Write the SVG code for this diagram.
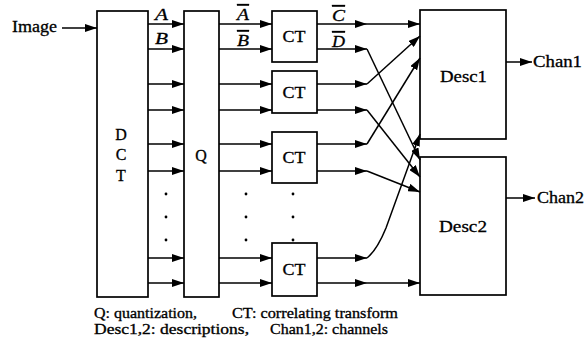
<svg xmlns="http://www.w3.org/2000/svg" width="586" height="349" viewBox="0 0 586 349" font-family="'Liberation Serif', 'DejaVu Serif', serif">
<style>
.box{fill:#fff;stroke:#000;stroke-width:1.7}
.ln{fill:none;stroke:#000;stroke-width:1.5}
.t{font-family:'Liberation Serif','DejaVu Serif',serif;fill:#000;stroke:#000;stroke-width:0.3}
.lbl{font-family:'Liberation Serif','DejaVu Serif',serif;font-style:italic;font-size:17px;fill:#000;stroke:#000;stroke-width:0.3}
.ov{text-decoration:overline}
.dot{fill:#000}
</style>
<defs>
<marker id="ah" markerUnits="userSpaceOnUse" markerWidth="12" markerHeight="8" refX="12" refY="4" orient="auto">
<path d="M0,0 L12,4 L0,8 z" fill="#000"/>
</marker>
</defs>
<rect width="586" height="349" fill="#fff"/>

<g id="input">
<text class="t" x="12" y="32" font-size="16" textLength="45" lengthAdjust="spacingAndGlyphs">Image</text>
</g>

<g id="dct">
<rect class="box" x="97" y="11" width="51" height="286"/>
<text class="t" x="121" y="140" font-size="16" text-anchor="middle">D</text>
<text class="t" x="121" y="160" font-size="16" text-anchor="middle">C</text>
<text class="t" x="121" y="181" font-size="16" text-anchor="middle">T</text>
</g>

<g id="q">
<rect class="box" x="184" y="11" width="35" height="286"/>
<text class="t" x="201" y="161" font-size="16" text-anchor="middle">Q</text>
</g>

<g id="ct1">
<rect class="box" x="272" y="11" width="45" height="51"/>
<text class="t" x="294" y="42" font-size="17" text-anchor="middle" textLength="23" lengthAdjust="spacingAndGlyphs">CT</text>
</g>
<g id="ct2">
<rect class="box" x="272" y="71" width="45" height="42"/>
<text class="t" x="294" y="98" font-size="17" text-anchor="middle" textLength="23" lengthAdjust="spacingAndGlyphs">CT</text>
</g>
<g id="ct3">
<rect class="box" x="272" y="132" width="45" height="51"/>
<text class="t" x="294" y="163" font-size="17" text-anchor="middle" textLength="23" lengthAdjust="spacingAndGlyphs">CT</text>
</g>
<g id="ct4">
<rect class="box" x="272" y="243" width="45" height="53"/>
<text class="t" x="294" y="275" font-size="17" text-anchor="middle" textLength="23" lengthAdjust="spacingAndGlyphs">CT</text>
</g>

<g id="desc1">
<rect class="box" x="420" y="10" width="86" height="129"/>
<text class="t" x="440" y="82" font-size="17" textLength="47" lengthAdjust="spacingAndGlyphs">Desc1</text>
</g>
<g id="desc2">
<rect class="box" x="420" y="157" width="86" height="138"/>
<text class="t" x="439" y="232" font-size="17" textLength="48" lengthAdjust="spacingAndGlyphs">Desc2</text>
</g>

<g id="chan1">
<text class="t" x="533" y="67" font-size="16" textLength="49" lengthAdjust="spacingAndGlyphs">Chan1</text>
</g>
<g id="chan2">
<text class="t" x="537" y="203" font-size="16" textLength="47" lengthAdjust="spacingAndGlyphs">Chan2</text>
</g>

<g id="connectors">
<line class="ln" x1="62" y1="28" x2="97" y2="28" marker-end="url(#ah)"/>
<line class="ln" x1="148" y1="24" x2="184" y2="24" marker-end="url(#ah)"/>
<line class="ln" x1="148" y1="49" x2="184" y2="49" marker-end="url(#ah)"/>
<line class="ln" x1="148" y1="84" x2="184" y2="84" marker-end="url(#ah)"/>
<line class="ln" x1="148" y1="110" x2="184" y2="110" marker-end="url(#ah)"/>
<line class="ln" x1="148" y1="144" x2="184" y2="144" marker-end="url(#ah)"/>
<line class="ln" x1="148" y1="171" x2="184" y2="171" marker-end="url(#ah)"/>
<line class="ln" x1="148" y1="258" x2="184" y2="258" marker-end="url(#ah)"/>
<line class="ln" x1="148" y1="283" x2="184" y2="283" marker-end="url(#ah)"/>
<line class="ln" x1="219" y1="24" x2="272" y2="24" marker-end="url(#ah)"/>
<line class="ln" x1="219" y1="49" x2="272" y2="49" marker-end="url(#ah)"/>
<line class="ln" x1="219" y1="84" x2="272" y2="84" marker-end="url(#ah)"/>
<line class="ln" x1="219" y1="110" x2="272" y2="110" marker-end="url(#ah)"/>
<line class="ln" x1="219" y1="144" x2="272" y2="144" marker-end="url(#ah)"/>
<line class="ln" x1="219" y1="171" x2="272" y2="171" marker-end="url(#ah)"/>
<line class="ln" x1="219" y1="258" x2="272" y2="258" marker-end="url(#ah)"/>
<line class="ln" x1="219" y1="283" x2="272" y2="283" marker-end="url(#ah)"/>
<line class="ln" x1="317" y1="24" x2="367" y2="24" marker-end="url(#ah)"/>
<line class="ln" x1="317" y1="49" x2="367" y2="49" marker-end="url(#ah)"/>
<line class="ln" x1="317" y1="84" x2="367" y2="84" marker-end="url(#ah)"/>
<line class="ln" x1="317" y1="110" x2="367" y2="110" marker-end="url(#ah)"/>
<line class="ln" x1="317" y1="144" x2="367" y2="144" marker-end="url(#ah)"/>
<line class="ln" x1="317" y1="171" x2="367" y2="171" marker-end="url(#ah)"/>
<line class="ln" x1="317" y1="258" x2="367" y2="258" marker-end="url(#ah)"/>
<line class="ln" x1="317" y1="283" x2="367" y2="283" marker-end="url(#ah)"/>
<line class="ln" x1="367" y1="24" x2="420" y2="24" marker-end="url(#ah)"/>
<line class="ln" x1="367" y1="49" x2="420" y2="160" marker-end="url(#ah)"/>
<line class="ln" x1="367" y1="84" x2="420" y2="36" marker-end="url(#ah)"/>
<line class="ln" x1="367" y1="110" x2="420" y2="177" marker-end="url(#ah)"/>
<line class="ln" x1="367" y1="144" x2="420" y2="58" marker-end="url(#ah)"/>
<line class="ln" x1="367" y1="171" x2="420" y2="192" marker-end="url(#ah)"/>
<path class="ln" d="M367,258 Q377,250 386,228 L420,134" marker-end="url(#ah)"/>
<line class="ln" x1="367" y1="283" x2="420" y2="283" marker-end="url(#ah)"/>
<line class="ln" x1="506" y1="62" x2="532" y2="62" marker-end="url(#ah)"/>
<line class="ln" x1="506" y1="198" x2="535" y2="198" marker-end="url(#ah)"/>
</g>

<g id="labels">
<text class="lbl" x="155" y="20" textLength="13" lengthAdjust="spacingAndGlyphs">A</text>
<text class="lbl" x="155" y="44" textLength="13" lengthAdjust="spacingAndGlyphs">B</text>
<text class="lbl ov" x="237" y="20" textLength="12" lengthAdjust="spacingAndGlyphs">A</text>
<text class="lbl ov" x="237" y="46" textLength="12" lengthAdjust="spacingAndGlyphs">B</text>
<text class="lbl ov" x="332" y="21" textLength="13" lengthAdjust="spacingAndGlyphs">C</text>
<text class="lbl ov" x="332" y="47" textLength="13" lengthAdjust="spacingAndGlyphs">D</text>
</g>

<g id="dots">
<circle class="dot" cx="166" cy="194" r="1.4"/>
<circle class="dot" cx="166" cy="217" r="1.4"/>
<circle class="dot" cx="166" cy="240" r="1.4"/>
<circle class="dot" cx="246" cy="194" r="1.4"/>
<circle class="dot" cx="246" cy="217" r="1.4"/>
<circle class="dot" cx="246" cy="240" r="1.4"/>
<circle class="dot" cx="293" cy="194" r="1.4"/>
<circle class="dot" cx="293" cy="217" r="1.4"/>
<circle class="dot" cx="293" cy="240" r="1.4"/>
</g>

<g id="caption">
<text class="t" x="94" y="318" font-size="14" textLength="103" lengthAdjust="spacingAndGlyphs">Q: quantization,</text>
<text class="t" x="232" y="318" font-size="14" textLength="166" lengthAdjust="spacingAndGlyphs">CT: correlating transform</text>
<text class="t" x="94" y="334" font-size="14" textLength="155" lengthAdjust="spacingAndGlyphs">Desc1,2: descriptions,</text>
<text class="t" x="270" y="334" font-size="14" textLength="118" lengthAdjust="spacingAndGlyphs">Chan1,2: channels</text>
</g>
</svg>
